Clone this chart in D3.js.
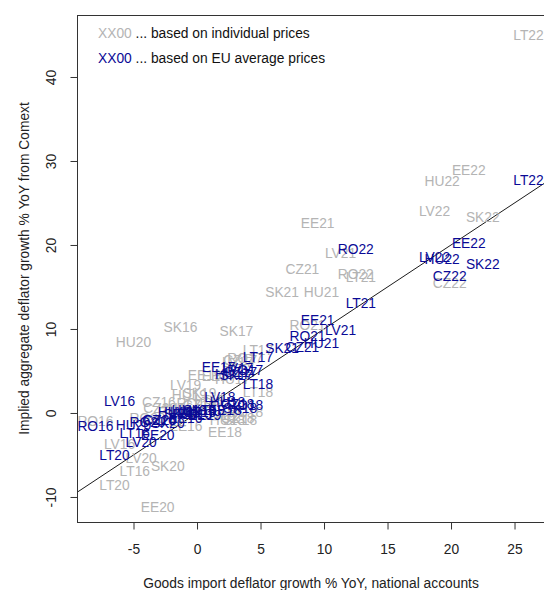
<!DOCTYPE html>
<html>
<head>
<meta charset="utf-8">
<script src="https://cdn.jsdelivr.net/npm/d3@7"></script>
<style>
  html, body { margin: 0; padding: 0; background: #fff; }
  svg { display: block; font-family: "Liberation Sans", Arial, sans-serif; }
</style>
</head>
<body>
<svg id="chart" width="544" height="590"></svg>
<script>
// ---- data ----
const labels = [
  "CZ16","EE16","HU16","LT16","LV16","RO16","SK16",
  "CZ17","EE17","HU17","LT17","LV17","RO17","SK17",
  "CZ18","EE18","HU18","LT18","LV18","RO18","SK18",
  "CZ19","EE19","HU19","LT19","LV19","RO19","SK19",
  "CZ20","EE20","HU20","LT20","LV20","RO20","SK20",
  "CZ21","EE21","HU21","LT21","LV21","RO21","SK21",
  "CZ22","EE22","HU22","LT22","LV22","RO22","SK22"
];
// goods import deflator growth, national accounts (x)
const nationalAccounts = [
  -3.0, -0.9, -1.7, -4.9, -6.1, -8.0, -1.3,
   3.4,  1.7,  2.8,  4.8,  3.2,  3.8,  3.1,
   3.2,  2.2,  2.4,  4.8,  1.8,  3.8,  3.4,
   0.2,  0.6, -0.6,  1.0, -0.9, -0.2,  0.2,
  -2.9, -3.1, -5.0, -6.5, -4.4, -3.9, -2.3,
   8.3,  9.5,  9.8, 12.9, 11.3,  8.7,  6.7,
  19.9, 21.4, 19.3, 26.1, 18.7, 12.5, 22.5
];
// implied deflator, based on individual prices (grey)
const individualPrices = [
   1.3, -1.5,  0.6, -6.9, -3.7, -1.0, 10.2,
   6.3,  4.4,  4.0,  7.5,  6.1,  6.5,  9.8,
  -0.6, -2.3, -0.8,  2.5, -0.2,  0.1, -0.8,
   1.0,  4.5,  2.1,  1.5,  3.3,  1.2,  2.4,
   0.6,-11.2,  8.5, -8.6, -5.4, -0.6, -6.3,
  17.1, 22.6, 14.4, 16.2, 19.0, 10.5, 14.4,
  15.5, 28.9, 27.6, 45.0, 24.0, 16.5, 23.3
];
// implied deflator, based on EU average prices (blue)
const euAveragePrices = [
  -0.8, -0.6,  0.1, -2.4,  1.4, -1.5, -0.1,
   4.9,  5.5,  4.6,  6.7,  5.4,  5.1,  4.5,
   1.1,  0.4,  1.3,  3.5,  1.9,  1.0,  0.6,
   0.1, -0.2,  0.4,  0.4,  0.1, -0.1,  0.4,
  -0.8, -2.6, -1.4, -5.0, -3.5, -1.1, -1.2,
   7.9, 11.1,  8.3, 13.1,  9.9,  9.2,  7.7,
  16.3, 20.2, 18.3, 27.7, 18.6, 19.5, 17.7
];
const xTicks = [-5, 0, 5, 10, 15, 20, 25];
const yTicks = [-10, 0, 10, 20, 30, 40];
const legendItems = [
  { key: "XX00", text: " ... based on individual prices", series: "grey" },
  { key: "XX00", text: " ... based on EU average prices", series: "blue" }
];

// ---- layout ----
const W = 544, H = 590;
const plot = { left: 77, right: 545, top: 15, bottom: 522 };
const GREY = "#b4b4b4", BLUE = "#0a0a96";
const FS = 13.8;

const x = d3.scaleLinear().domain([-9.45, 27.4]).range([plot.left, plot.right]);
const y = d3.scaleLinear().domain([-12.98, 47.38]).range([plot.bottom, plot.top]);

const svg = d3.select("#chart");

svg.append("defs").append("clipPath").attr("id", "clip")
  .append("rect")
  .attr("x", plot.left).attr("y", plot.top)
  .attr("width", plot.right - plot.left).attr("height", plot.bottom - plot.top);

const g = svg.append("g").attr("clip-path", "url(#clip)");

// y = x reference line
const dom = x.domain();
g.append("line")
  .attr("x1", x(dom[0])).attr("y1", y(dom[0]))
  .attr("x2", x(dom[1])).attr("y2", y(dom[1]))
  .attr("stroke", "#000").attr("stroke-width", 0.9);

const pts = labels.map((l, i) => ({ l, x: nationalAccounts[i], gi: individualPrices[i], eu: euAveragePrices[i] }));

g.selectAll("text.grey").data(pts).join("text")
  .attr("class", "grey")
  .attr("x", d => x(d.x)).attr("y", d => y(d.gi))
  .attr("dy", "0.36em")
  .attr("text-anchor", "middle")
  .attr("font-size", FS).attr("fill", GREY)
  .text(d => d.l);

g.selectAll("text.blue").data(pts).join("text")
  .attr("class", "blue")
  .attr("x", d => x(d.x)).attr("y", d => y(d.eu))
  .attr("dy", "0.36em")
  .attr("text-anchor", "middle")
  .attr("font-size", FS).attr("fill", BLUE)
  .text(d => d.l);

// frame
svg.append("rect")
  .attr("x", plot.left + 0.5).attr("y", plot.top + 0.5)
  .attr("width", plot.right - plot.left).attr("height", plot.bottom - plot.top)
  .attr("fill", "none").attr("stroke", "#333").attr("stroke-width", 1);

// x axis
const xAxis = svg.append("g")
  .attr("transform", `translate(0,${plot.bottom + 0.5})`)
  .call(d3.axisBottom(x).tickValues(xTicks).tickSize(7).tickPadding(15).tickFormat(d => d < 0 ? "-" + Math.abs(d) : d));
xAxis.select(".domain").remove();
xAxis.selectAll(".tick line").attr("stroke", "#333");
xAxis.selectAll(".tick text").attr("font-size", FS).attr("fill", "#222").attr("font-family", "Liberation Sans, Arial, sans-serif");

// y axis
const yAxis = svg.append("g")
  .attr("transform", `translate(${plot.left + 0.5},0)`)
  .call(d3.axisLeft(y).tickValues(yTicks).tickSize(7).tickFormat(d => d < 0 ? "-" + Math.abs(d) : d));
yAxis.select(".domain").remove();
yAxis.selectAll(".tick line").attr("stroke", "#333");
yAxis.selectAll(".tick text")
  .attr("font-size", FS).attr("fill", "#222").attr("font-family", "Liberation Sans, Arial, sans-serif")
  .attr("x", null).attr("dy", null)
  .attr("text-anchor", "middle")
  .attr("transform", "translate(-21.5,0) rotate(-90)");

// axis titles
svg.append("text")
  .attr("x", (plot.left + plot.right) / 2).attr("y", 588)
  .attr("text-anchor", "middle").attr("font-size", FS).attr("fill", "#222")
  .text("Goods import deflator growth % YoY, national accounts");

svg.append("text")
  .attr("transform", `translate(29,${(plot.top + plot.bottom) / 2}) rotate(-90)`)
  .attr("text-anchor", "middle").attr("font-size", FS).attr("fill", "#222")
  .text("Implied aggregate deflator growth % YoY from Comext");

// legend
const leg = svg.append("g");
legendItems.forEach((it, i) => {
  const t = leg.append("text")
    .attr("x", 98).attr("y", 38 + i * 25)
    .attr("font-size", FS);
  t.append("tspan").attr("fill", it.series === "grey" ? GREY : BLUE).text(it.key);
  t.append("tspan").attr("fill", "#111").text(it.text);
});
</script>
</body>
</html>
